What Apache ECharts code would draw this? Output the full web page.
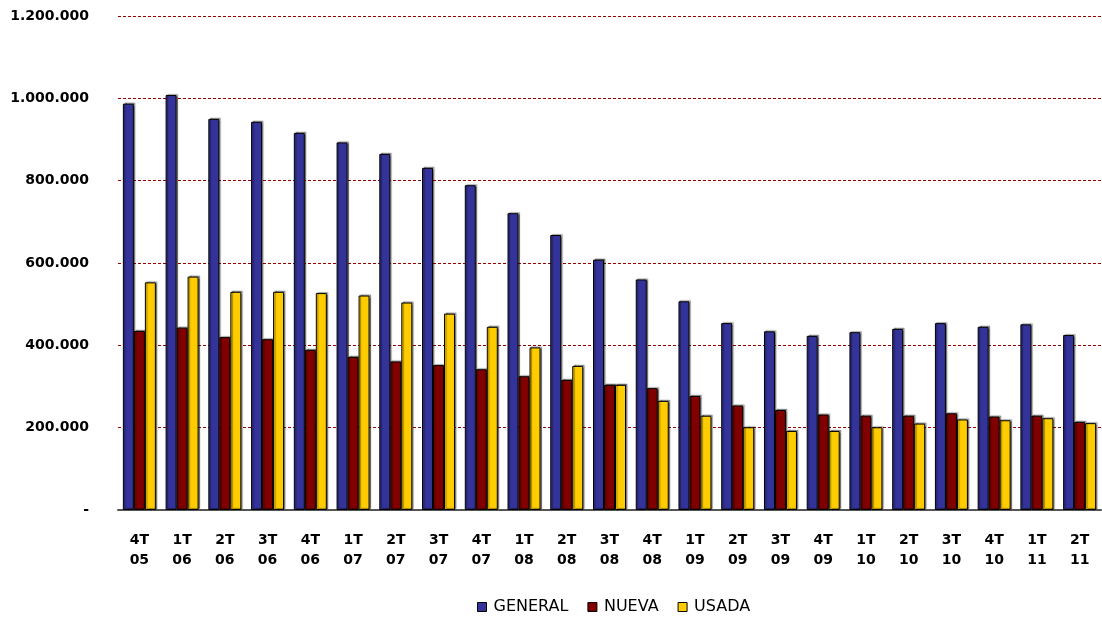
<!DOCTYPE html>
<html>
<head>
<meta charset="utf-8">
<script src="https://cdn.jsdelivr.net/npm/echarts@6/dist/echarts.min.js"></script>
<style>
  html, body { margin: 0; padding: 0; background: #ffffff; }
  #chart { width: 1102px; height: 619px; }
</style>
</head>
<body>
<div id="chart"></div>
<script>
// Quarterly figures, 4T 2005 – 2T 2011
const quarters = ['4T\n05','1T\n06','2T\n06','3T\n06','4T\n06','1T\n07','2T\n07','3T\n07','4T\n07',
  '1T\n08','2T\n08','3T\n08','4T\n08','1T\n09','2T\n09','3T\n09','4T\n09','1T\n10','2T\n10',
  '3T\n10','4T\n10','1T\n11','2T\n11'];

const general = [987000, 1008000, 950000, 943000, 916000, 893000, 865000, 831000, 789000,
  721000, 668000, 608000, 560000, 507000, 454000, 434000, 423000, 432000, 440000,
  454000, 445000, 451000, 425000];

const nueva = [435000, 443000, 420000, 415000, 389000, 372000, 361000, 352000, 342000,
  325000, 316000, 304000, 296000, 277000, 254000, 243000, 232000, 229000, 229000,
  235000, 227000, 229000, 214000];

const usada = [553000, 567000, 530000, 530000, 527000, 521000, 504000, 477000, 445000,
  395000, 350000, 304000, 265000, 229000, 201000, 192000, 192000, 201000, 210000,
  220000, 218000, 223000, 211000];

const yTicks = { min: 0, max: 1200000, step: 200000 };

function fmtThousands(v) {
  if (v === 0) return '-';
  return String(v).replace(/\B(?=(\d{3})+(?!\d))/g, '.');
}

const barStyle = (color) => ({
  color: color,
  borderColor: '#000000',
  borderWidth: 1,
  shadowColor: 'rgba(0,0,0,0.4)',
  shadowBlur: 1,
  shadowOffsetX: 1.5,
  shadowOffsetY: -1
});

const chart = echarts.init(document.getElementById('chart'), null, { renderer: 'canvas' });

chart.setOption({
  animation: false,
  backgroundColor: '#ffffff',
  textStyle: { fontFamily: 'DejaVu Sans' },
  grid: { left: 118, right: 1, top: 16, bottom: 109, containLabel: false },
  legend: {
    bottom: -1,
    left: 472,
    itemWidth: 9,
    itemHeight: 9,
    itemGap: 19,
    icon: 'rect',
    textStyle: { fontFamily: 'DejaVu Sans', fontSize: 16, color: '#000000', padding: [0, 0, 0, 2] },
    itemStyle: { borderColor: '#000000', borderWidth: 1 },
    data: ['GENERAL', 'NUEVA', 'USADA']
  },
  xAxis: {
    type: 'category',
    data: quarters,
    axisLine: { show: true, lineStyle: { color: '#555555', width: 2 } },
    axisTick: { show: false },
    axisLabel: {
      interval: 0,
      margin: 20,
      color: '#000000',
      fontFamily: 'DejaVu Sans',
      fontWeight: 'bold',
      fontSize: 14,
      lineHeight: 20
    }
  },
  yAxis: {
    type: 'value',
    min: yTicks.min,
    max: yTicks.max,
    interval: yTicks.step,
    axisLine: { show: false },
    axisTick: { show: false },
    axisLabel: {
      margin: 29,
      color: '#000000',
      fontFamily: 'DejaVu Sans',
      fontWeight: 'bold',
      fontSize: 14,
      formatter: fmtThousands
    },
    splitLine: {
      show: true,
      lineStyle: { color: '#990000', width: 1, type: [3, 2] }
    }
  },
  series: [
    { name: 'GENERAL', type: 'bar', data: general, barWidth: 11, barGap: '0%', itemStyle: barStyle('#333399') },
    { name: 'NUEVA', type: 'bar', data: nueva, barWidth: 11, barGap: '0%', itemStyle: barStyle('#800000') },
    { name: 'USADA', type: 'bar', data: usada, barWidth: 11, barGap: '0%', itemStyle: barStyle('#FFCC00') }
  ]
});
</script>
</body>
</html>
